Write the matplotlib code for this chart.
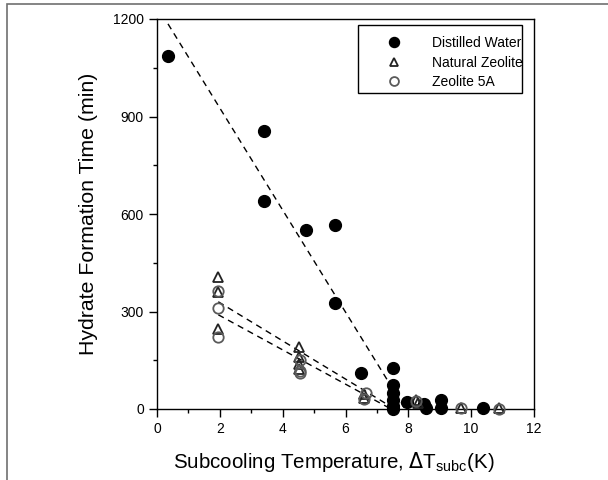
import matplotlib
matplotlib.use("Agg")
import matplotlib.pyplot as plt
from matplotlib.patches import Rectangle
from matplotlib.ticker import MultipleLocator

plt.rcParams['font.family'] = ['Liberation Sans', 'DejaVu Sans']

# Distilled Water
dw_x = [0.35, 3.4, 3.4, 4.75, 5.65, 5.65, 6.5, 7.52, 7.52, 7.52, 7.52, 7.52, 7.52, 7.95, 8.5, 8.55, 9.05, 9.05, 10.37]
dw_y = [1085, 855, 640, 550, 565, 325, 110, 125, 75, 50, 28, 10, 0, 22, 15, 3, 28, 3, 2]

# Natural Zeolite
nz_x = [1.95, 1.95, 1.95, 4.52, 4.52, 4.52, 4.52, 6.6, 6.6, 8.25, 8.3, 9.68, 10.89]
nz_y = [405, 360, 245, 190, 160, 140, 122, 35, 45, 28, 18, 4, 3]

# Zeolite 5A
z5_x = [1.95, 1.95, 1.95, 4.55, 4.55, 4.55, 6.65, 6.6, 8.25, 9.68, 10.89]
z5_y = [362, 310, 222, 150, 118, 112, 50, 30, 25, 2, 1]

# Dashed trend lines (endpoints)
dw_fit_x = [0.35, 7.9]
dw_fit_y = [1185, 0]
nz_fit_x = [1.95, 7.57]
nz_fit_y = [330, 0]
z5_fit_x = [1.95, 7.45]
z5_fit_y = [290, 0]

fig = plt.figure(figsize=(6.08, 4.8), dpi=100)
# outer border (left and top visible)
fig.patches.append(Rectangle((6.5/608, -0.1), 1.2, 1 - 4/480 + 0.1, transform=fig.transFigure,
                             fill=False, edgecolor='#707070', linewidth=1.2, zorder=0))

ax = fig.add_axes([157/608, 1 - 409/480, (534 - 157)/608, (409 - 19)/480])

dash = (0, (4.5, 3.5))
ax.plot(dw_fit_x, dw_fit_y, color='black', linestyle=dash, linewidth=1.0, zorder=1)
ax.plot(nz_fit_x, nz_fit_y, color='black', linestyle=dash, linewidth=1.0, zorder=1)
ax.plot(z5_fit_x, z5_fit_y, color='black', linestyle=dash, linewidth=1.0, zorder=1)

ax.plot(dw_x, dw_y, linestyle='none', marker='o', markersize=8.5, color='black',
        markeredgecolor='black', label='Distilled Water', zorder=3, clip_on=False)
ax.plot(nz_x, nz_y, linestyle='none', marker='^', markersize=7.5, markerfacecolor='none',
        markeredgecolor='#222222', markeredgewidth=1.3, label='Natural Zeolite', zorder=4, clip_on=False)
ax.plot(z5_x, z5_y, linestyle='none', marker='o', markersize=7.5, markerfacecolor='none',
        markeredgecolor='#5a5a5a', markeredgewidth=1.3, label='Zeolite 5A', zorder=4, clip_on=False)

ax.set_xlim(0, 12)
ax.set_ylim(0, 1200)
ax.xaxis.set_major_locator(MultipleLocator(2))
ax.xaxis.set_minor_locator(MultipleLocator(1))
ax.yaxis.set_major_locator(MultipleLocator(300))
ax.yaxis.set_minor_locator(MultipleLocator(150))
ax.tick_params(which='both', direction='out', top=False, right=False, labelsize=10, width=1)
ax.tick_params(which='major', length=6)
ax.tick_params(which='minor', length=3)
for s in ax.spines.values():
    s.set_linewidth(1.0)

ax.set_xlabel(r'Subcooling Temperature, $\Delta$T$_{\mathregular{subc}}$(K)', fontsize=14.8)
ax.xaxis.set_label_coords((334 - 157) / 377, -(450 - 409) / 390)
ax.set_ylabel('Hydrate Formation Time (min)', fontsize=15.3, labelpad=11)

# legend box (drawn as a frame) and frameless legend inside it
bx0, bx1 = (358 - 157) / 377, (522 - 157) / 377
by0, by1 = (409 - 93) / 390, (409 - 25) / 390
ax.add_patch(Rectangle((bx0, by0), bx1 - bx0, by1 - by0, transform=ax.transAxes,
                       fill=False, edgecolor='black', linewidth=1.0, zorder=5))
leg = ax.legend(loc='upper left', bbox_to_anchor=(bx0, by1), fontsize=10, frameon=False,
                borderpad=0.8, labelspacing=0.4, handlelength=3.6, handletextpad=0.95,
                borderaxespad=0, markerscale=0.85)

fig.savefig('out.png', dpi=100)
